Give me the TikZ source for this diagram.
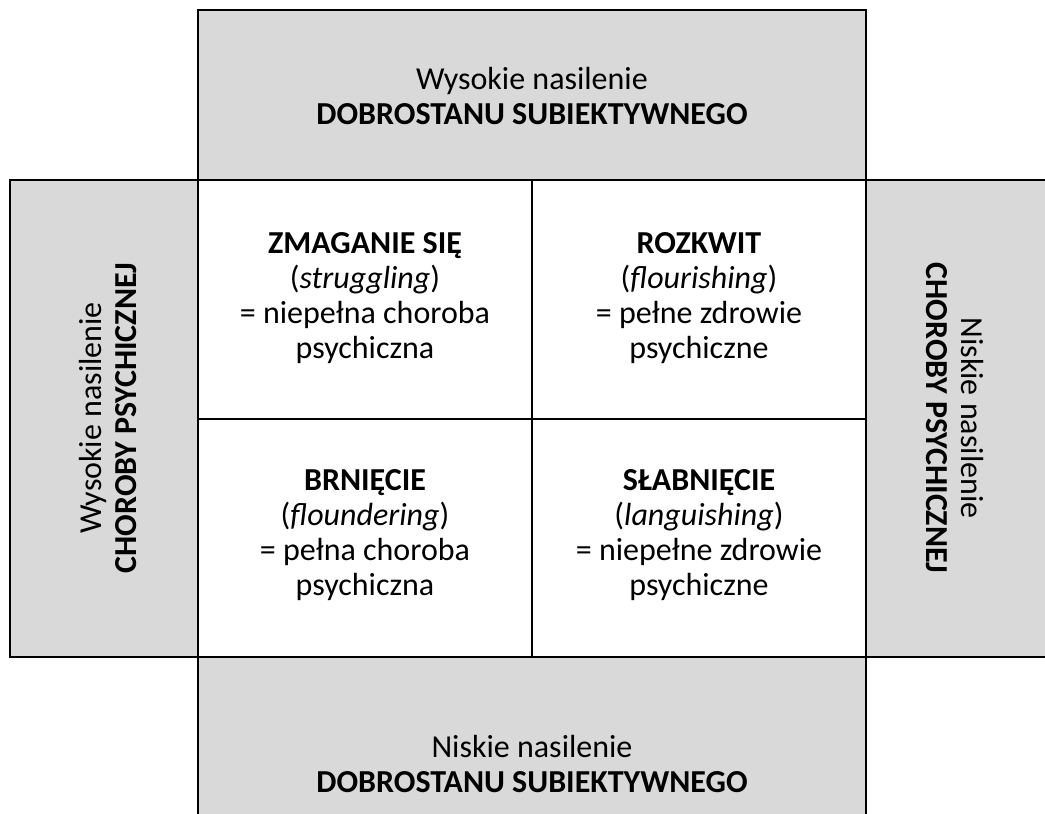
\documentclass[tikz,border=0pt]{standalone}
\usepackage{fontspec}
\setmainfont{Carlito}
\definecolor{boxgray}{HTML}{D9D9D9}
\tikzset{
  panel/.style={draw=black, line width=2.3pt, fill=boxgray},
  cell/.style={draw=black, line width=2.3pt, fill=white},
  txt/.style={align=center, inner sep=0pt, font=\fontsize{32}{35}\selectfont},
}
\begin{document}
\begin{tikzpicture}[x=1pt,y=-1pt]
\useasboundingbox (0,0) rectangle (1045,814);
\clip (0,0) rectangle (1045,814);
% outer panels
\draw[panel] (198,10) rectangle (866,180);
\draw[panel] (10,180) rectangle (198,657);
\draw[panel] (866,180) rectangle (1060,657);
\draw[panel] (198,657) rectangle (866,840);
% quadrants
\draw[cell] (198,180) rectangle (532,419);
\draw[cell] (532,180) rectangle (866,419);
\draw[cell] (198,419) rectangle (532,657);
\draw[cell] (532,419) rectangle (866,657);
% texts
\node[txt] (top) at (532,96) {Wysokie nasilenie\\\textbf{DOBROSTANU SUBIEKTYWNEGO}};
\node[txt] (bottom) at (532,764) {Niskie nasilenie\\\textbf{DOBROSTANU SUBIEKTYWNEGO}};
\node[txt, rotate=90] (left) at (108,418) {Wysokie nasilenie\\\textbf{CHOROBY PSYCHICZNEJ}};
\node[txt, rotate=-90] (right) at (955,418) {Niskie nasilenie\\\textbf{CHOROBY PSYCHICZNEJ}};
\node[txt] (q1) at (365,298) {\textbf{ZMAGANIE SIĘ}\\(\textit{struggling})\\= niepełna choroba\\psychiczna};
\node[txt] (q2) at (699,298) {\textbf{ROZKWIT}\\(\textit{flourishing})\\= pełne zdrowie\\psychiczne};
\node[txt] (q3) at (365,535) {\textbf{BRNIĘCIE}\\(\textit{floundering})\\= pełna choroba\\psychiczna};
\node[txt] (q4) at (699,535) {\textbf{SŁABNIĘCIE}\\(\textit{languishing})\\= niepełne zdrowie\\psychiczne};
\end{tikzpicture}
\end{document}
